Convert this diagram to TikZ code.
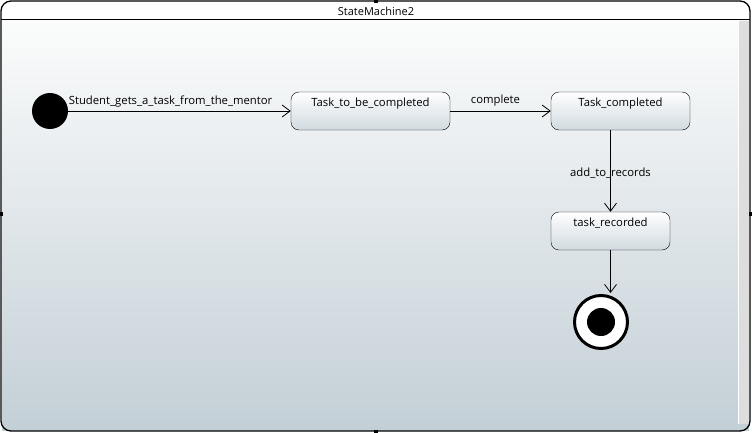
\documentclass[tikz,border=0pt]{standalone}
\usepackage{fontspec}
\setmainfont{Open Sans}
\usetikzlibrary{arrows.meta}
\usetikzlibrary{positioning}
\definecolor{bgtop}{HTML}{FBFCFC}
\definecolor{bgbottom}{HTML}{C3CFD6}
\definecolor{statetop}{HTML}{FFFFFF}
\definecolor{statebottom}{HTML}{D0DAE0}
\definecolor{scrollgray}{HTML}{DDDDDD}
\tikzstyle{state_box}=[draw=black, rounded corners=8pt, top color=statetop,
    bottom color=statebottom, inner xsep=0pt, inner ysep=0pt,
    text height=14.5pt, text depth=23.5pt, font=\fontsize{11.3}{13}\selectfont]
\tikzstyle{state_init}=[circle, fill=black, minimum size=36pt, inner sep=0pt]
\tikzstyle{state_final}=[circle, draw=black, line width=3pt, fill=white,
    minimum size=53pt, inner sep=0pt]
\tikzstyle{trans}=[-{Straight Barb[length=8pt,width=12pt]}, line width=0.8pt]
\tikzstyle{trans_label}=[font=\fontsize{11.3}{13}\selectfont, inner sep=2pt]
\tikzstyle{handle}=[fill=black]

\begin{document}
\begin{tikzpicture}[x=1pt, y=-1pt]
  \useasboundingbox (0,0) rectangle (752,433);
  % frame
  \shade[top color=bgtop, bottom color=bgbottom] (2,21) rectangle (749,430);
  \fill[scrollgray] (738,21) rectangle (749,424);
  \draw[white, line width=0.8pt] (738,21) -- (738,424);
  \draw[line width=1.3pt, rounded corners=10pt] (1,1) rectangle (750,431);
  \draw[line width=1pt] (1,20) -- (750,20);
  \node[font=\fontsize{11}{13}\selectfont] (title) at (376,11) {StateMachine2};
  \fill[handle] (374,0) rectangle (378,3);
  \fill[handle] (0,212) rectangle (3,216);
  \fill[handle] (749,212) rectangle (752,216);
  \fill[handle] (374,430) rectangle (378,433);
  % states
  \node[state_init] (start) at (50,111) {};
  \node[state_box, minimum width=159pt] (todo) at (370.5,111) {Task\_to\_be\_completed};
  \node[state_box, minimum width=139pt] (done) at (620.5,111) {Task\_completed};
  \node[state_box, minimum width=119pt] (rec) at (610.5,231) {task\_recorded};
  \node[state_final] (stop) at (601,322) {};
  \fill (stop.center) circle (14);
  % transitions
  \draw[trans] (start) -- node[trans_label, above, pos=0.46, yshift=1pt]
      {Student\_gets\_a\_task\_from\_the\_mentor} (todo);
  \draw[trans] (todo) -- node[trans_label, above, pos=0.45, yshift=2pt] {complete} (done);
  \draw[trans] (done.south -| rec.north) -- node[trans_label, yshift=-2pt] {add\_to\_records} (rec.north);
  \draw[trans] (rec.south) -- ([yshift=1pt]rec.south |- stop.north);
\end{tikzpicture}
\end{document}
